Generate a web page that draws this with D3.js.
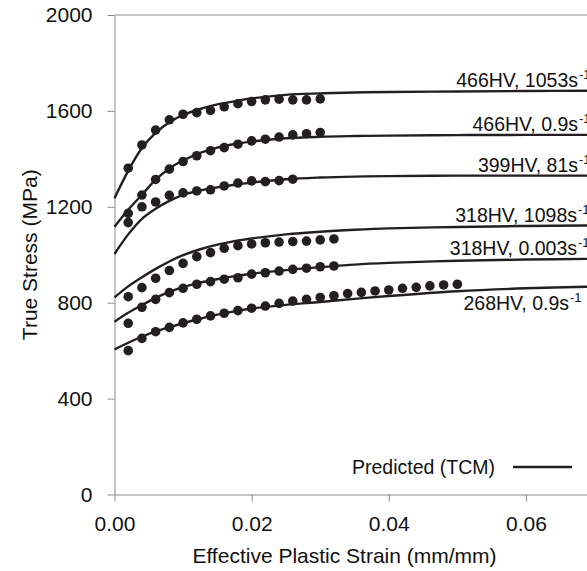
<!DOCTYPE html>
<html>
<head>
<meta charset="utf-8">
<script src="https://cdn.jsdelivr.net/npm/d3@7"></script>
<style>
  html, body { margin: 0; padding: 0; background: #fff; overflow: hidden; }
  svg { display: block; font-family: "Liberation Sans", Arial, sans-serif; }
</style>
</head>
<body>
<div class="chart"></div>
<script>
// measured points (strain, mm/mm) shared by every test series
const dotStrain = [0.002, 0.004, 0.006, 0.008, 0.010, 0.012, 0.014, 0.016, 0.018, 0.020,
  0.022, 0.024, 0.026, 0.028, 0.030, 0.032, 0.034, 0.036, 0.038, 0.040,
  0.042, 0.044, 0.046, 0.048, 0.050]

// measured true stress (MPa)
const dots466Fast = [1361, 1458, 1520, 1563, 1586, 1593, 1602, 1617, 1630, 1639, 1646, 1649, 1646, 1646, 1650]
const dots466Slow = [1173, 1249, 1314, 1357, 1389, 1413, 1434, 1447, 1461, 1475, 1482, 1491, 1500, 1505, 1510]
const dots399 = [1134, 1200, 1220, 1248, 1258, 1266, 1271, 1287, 1299, 1308, 1305, 1309, 1315]
const dots318Fast = [825, 863, 902, 934, 964, 992, 1009, 1027, 1038, 1045, 1050, 1053, 1055, 1057, 1062, 1066]
const dots318Slow = [714, 781, 814, 842, 860, 877, 888, 898, 904, 919, 925, 932, 939, 944, 950, 953]
const dots268 = [600, 651, 679, 697, 716, 731, 745, 756, 767, 777, 786, 797, 807, 814, 822, 829,
  838, 843, 849, 853, 860, 864, 870, 874, 877]

// predicted (TCM) curves, read at these strains
const curveStrain = [0, 0.002, 0.004, 0.006, 0.008, 0.010, 0.0125, 0.015, 0.0175, 0.020,
  0.025, 0.030, 0.035, 0.040, 0.050, 0.060, 0.070]
const pred466Fast = [1236, 1350, 1445, 1508, 1553, 1583, 1608, 1627, 1640, 1652, 1667, 1673, 1677, 1679, 1681, 1683, 1684]
const pred466Slow = [1117, 1188, 1250, 1313, 1360, 1393, 1425, 1447, 1462, 1472, 1486, 1492, 1495, 1497, 1499, 1500, 1500]
const pred399 = [1003, 1085, 1150, 1192, 1225, 1250, 1268, 1281, 1292, 1301, 1315, 1322, 1326, 1328, 1330, 1330, 1330]
const pred318Fast = [822, 868, 906, 941, 972, 998, 1023, 1042, 1057, 1068, 1085, 1096, 1104, 1110, 1116, 1120, 1122]
const pred318Slow = [721, 758, 790, 820, 845, 865, 884, 898, 911, 921, 936, 948, 959, 966, 975, 980, 983]
const pred268 = [605, 633, 658, 680, 698, 714, 733, 750, 764, 776, 791, 803, 816, 828, 848, 860, 867]

const seriesNames = ['466HV, 1053s', '466HV, 0.9s', '399HV, 81s', '318HV, 1098s', '318HV, 0.003s', '268HV, 0.9s']
const xTicks = [0, 0.02, 0.04, 0.06]
const yTicks = [0, 400, 800, 1200, 1600, 2000]

{
  let width = 587, height = 571
  let margin = {left: 114.5, top: 15}
  let plotW = 480, plotH = 479.5
  let ink = '#231f20', axisGray = '#8c8c8c'

  let series = [
    {name: seriesNames[0], dots: dots466Fast, pred: pred466Fast, below: false, end: 578},
    {name: seriesNames[1], dots: dots466Slow, pred: pred466Slow, below: false, end: 578},
    {name: seriesNames[2], dots: dots399, pred: pred399, below: false, end: 578},
    {name: seriesNames[3], dots: dots318Fast, pred: pred318Fast, below: false, end: 577},
    {name: seriesNames[4], dots: dots318Slow, pred: pred318Slow, below: false, end: 577},
    {name: seriesNames[5], dots: dots268, pred: pred268, below: true, end: 569}
  ]

  let svg = d3.select('.chart').append('svg')
    .attr('width', width)
    .attr('height', height)

  let x = d3.scaleLinear().domain([0, 0.07]).range([margin.left, margin.left + plotW])
  let y = d3.scaleLinear().domain([0, 2000]).range([margin.top + plotH, margin.top])

  // axes
  let xAxis = svg.append('g')
    .attr('transform', `translate(0,${y(0)})`)
    .call(d3.axisBottom(x).tickValues(xTicks).tickFormat(d3.format('.2f')).tickSize(7).tickSizeOuter(0))
  let yAxis = svg.append('g')
    .attr('transform', `translate(${x(0)},0)`)
    .call(d3.axisLeft(y).tickValues(yTicks).tickFormat(d3.format('d')).tickSize(7).tickSizeOuter(0))
  ;[xAxis, yAxis].forEach(ax => {
    ax.select('.domain').attr('stroke', axisGray)
    ax.selectAll('.tick line').attr('stroke', axisGray)
    ax.selectAll('.tick text').attr('fill', '#111').style('font-size', '21px')
  })
  xAxis.selectAll('.tick text').attr('dy', '0').attr('y', 36)
  yAxis.selectAll('.tick text').attr('x', -22)

  // top frame line
  svg.append('line')
    .attr('x1', x(0)).attr('x2', width)
    .attr('y1', y(2000)).attr('y2', y(2000))
    .attr('stroke', axisGray)

  svg.append('text')
    .attr('x', margin.left + 230)
    .attr('y', 563)
    .attr('text-anchor', 'middle')
    .style('font-size', '21px')
    .attr('fill', '#111')
    .text('Effective Plastic Strain (mm/mm)')
  svg.append('text')
    .attr('transform', `translate(37,${y(1000)}) rotate(-90)`)
    .attr('text-anchor', 'middle')
    .style('font-size', '21px')
    .attr('fill', '#111')
    .text('True Stress (MPa)')

  // predicted curves
  let line = d3.line()
    .x((d, i) => x(curveStrain[i]))
    .y(d => y(d))
    .curve(d3.curveCatmullRom.alpha(0.5))
  svg.selectAll('path.pred').data(series).enter()
    .append('path')
    .attr('class', 'pred')
    .attr('fill', 'none')
    .attr('stroke', ink)
    .attr('stroke-width', 2.4)
    .attr('d', d => line(d.pred))

  // measured points
  series.forEach(s => {
    svg.selectAll(null).data(s.dots).enter()
      .append('circle')
      .attr('cx', (d, i) => x(dotStrain[i]))
      .attr('cy', d => y(d))
      .attr('r', 4.8)
      .attr('fill', ink)
  })

  // curve labels (the -1 exponent runs off the right edge, as in the source figure)
  series.forEach(s => {
    let last = s.pred[s.pred.length - 1]
    let by = s.below ? y(last) + 23 : y(last) - 4
    svg.append('text')
      .attr('x', s.end)
      .attr('y', by)
      .attr('text-anchor', 'end')
      .style('font-size', '19.5px')
      .attr('fill', '#111')
      .text(s.name)
    svg.append('text')
      .attr('x', s.end + 1)
      .attr('y', by - 8)
      .style('font-size', '13px')
      .attr('fill', '#111')
      .text('-1')
  })

  // legend
  svg.append('text')
    .attr('x', 352)
    .attr('y', 474)
    .style('font-size', '19.5px')
    .attr('fill', '#111')
    .text('Predicted (TCM)')
  svg.append('line')
    .attr('x1', 513).attr('x2', 572)
    .attr('y1', 467).attr('y2', 467)
    .attr('stroke', ink)
    .attr('stroke-width', 2.4)
}
</script>
</body>
</html>
